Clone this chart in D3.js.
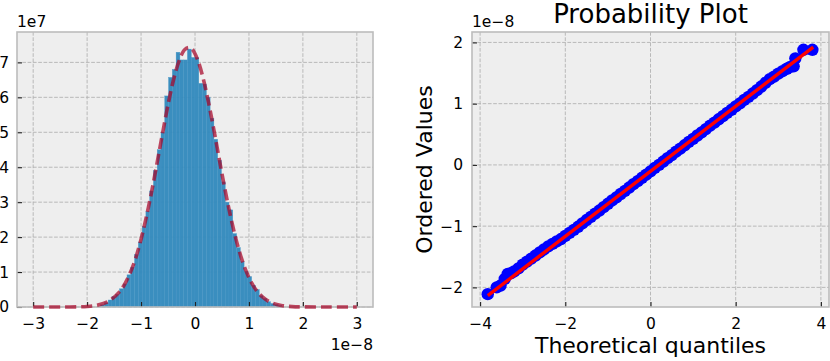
<!DOCTYPE html>
<html>
<head>
<meta charset="utf-8">
<script src="https://cdn.jsdelivr.net/npm/d3@7"></script>
<style>
  body { margin: 0; background: #fff; }
  svg text { font-family: "DejaVu Sans", sans-serif; fill: #000; }
</style>
</head>
<body>
<div id="chart"></div>
<script>
// left panel: histogram of the residuals (x in 1e-8, heights in 1e7)
const binStart = -1.75;
const binWidth = 0.07;
const binHeights = [
  0.06, 0.12, 0.2, 0.3, 0.36, 0.52, 0.66, 0.92, 1.14, 1.5, 1.86, 2.3,
  2.74, 3.32, 3.9, 4.5, 5.0, 6.04, 6.57, 6.8, 7.29, 7.07, 7.07, 7.38,
  7.14, 7.14, 6.4, 6.38, 6.0, 5.4, 4.8, 4.2, 3.58, 3.0, 2.78, 2.1,
  1.7, 1.3, 1.02, 0.87, 0.62, 0.5, 0.32, 0.24, 0.15, 0.1, 0.07, 0.04
];

// fitted normal pdf (dashed curve)
const pdfX = [-3, -2.5, -2, -1.8, -1.6, -1.4, -1.3, -1.2, -1.1, -1, -0.9, -0.8, -0.7,
  -0.6, -0.5, -0.4, -0.3, -0.2, -0.12, -0.05, 0.05, 0.15, 0.25, 0.35, 0.45, 0.55,
  0.65, 0.75, 0.85, 0.95, 1.05, 1.15, 1.25, 1.4, 1.6, 1.8, 2, 2.5, 3];
const pdfY = [0, 0, 0.016, 0.056, 0.167, 0.434, 0.664, 0.98, 1.40, 1.94, 2.59, 3.33, 4.15,
  4.98, 5.79, 6.49, 7.02, 7.35, 7.43, 7.37, 7.07, 6.55, 5.86, 5.07, 4.23, 3.41,
  2.66, 2.00, 1.45, 1.02, 0.69, 0.45, 0.29, 0.135, 0.044, 0.012, 0.003, 0, 0];

// right panel: probability plot (ordered values in 1e-8)
const qqTheoretical = [-3.82, -3.61, -3.52, -3.42, -3.35, -3.28, -3.2, -3.1, -3.0, -2.9,
  -2.8, -2.7, -2.6, -2.5, -2.4, -2.3, -2.2, -2.1, -2.0, -1.9, -1.8, -1.7, -1.6, -1.5,
  -1.4, -1.3, -1.2, -1.1, -1.0, -0.9, -0.8, -0.7, -0.6, -0.5, -0.4, -0.3, -0.2, -0.1,
  0.0, 0.1, 0.2, 0.3, 0.4, 0.5, 0.6, 0.7, 0.8, 0.9, 1.0, 1.1, 1.2, 1.3, 1.4, 1.5,
  1.6, 1.7, 1.8, 1.9, 2.0, 2.1, 2.2, 2.3, 2.4, 2.5, 2.6, 2.7, 2.8, 2.9, 3.0, 3.1,
  3.2, 3.28, 3.36, 3.4, 3.59, 3.8];
const qqOrdered = [-2.11, -2.0, -1.97, -1.86, -1.78, -1.77, -1.74, -1.69, -1.63, -1.58,
  -1.53, -1.48, -1.43, -1.38, -1.33, -1.29, -1.25, -1.21, -1.16, -1.11, -1.06, -1.01, -0.955, -0.9,
  -0.85, -0.795, -0.745, -0.69, -0.635, -0.58, -0.53, -0.475, -0.425, -0.37, -0.315, -0.265, -0.21, -0.16,
  -0.105, -0.05, 0.0, 0.055, 0.11, 0.16, 0.215, 0.265, 0.32, 0.375, 0.425, 0.48, 0.53, 0.585, 0.64, 0.69,
  0.745, 0.795, 0.85, 0.9, 0.955, 1.005, 1.06, 1.11, 1.165, 1.22, 1.28, 1.34, 1.4, 1.44, 1.49, 1.53,
  1.57, 1.6, 1.61, 1.74, 1.88, 1.88];
const fitX = [-3.82, 3.82];
const fitY = [-2.133, 1.923];

const histXTicks = [-3, -2, -1, 0, 1, 2, 3];
const histYTicks = [0, 1, 2, 3, 4, 5, 6, 7];
const qqXTicks = [-4, -2, 0, 2, 4];
const qqYTicks = [-2, -1, 0, 1, 2];

const W = 830, H = 361;
const fmt = d3.format("d");

const svg = d3.select("#chart").append("svg")
  .attr("width", W)
  .attr("height", H);

// axes background + dashed grid, returns scales and a layer for marks
function makePanel(box, xDomain, yDomain, xTicks, yTicks) {
  const x = d3.scaleLinear().domain(xDomain).range([box.left, box.right]);
  const y = d3.scaleLinear().domain(yDomain).range([box.bottom, box.top]);
  const g = svg.append("g");

  g.append("rect")
    .attr("x", box.left).attr("y", box.top)
    .attr("width", box.right - box.left)
    .attr("height", box.bottom - box.top)
    .attr("fill", "#eeeeee");

  const grid = g.append("g")
    .attr("stroke", "#b2b2b2")
    .attr("stroke-width", 0.9)
    .attr("stroke-dasharray", "3.7,1.6");
  grid.selectAll("line.gx").data(xTicks).join("line")
    .attr("class", "gx")
    .attr("x1", (d) => x(d)).attr("x2", (d) => x(d))
    .attr("y1", box.top).attr("y2", box.bottom);
  grid.selectAll("line.gy").data(yTicks).join("line")
    .attr("class", "gy")
    .attr("y1", (d) => y(d)).attr("y2", (d) => y(d))
    .attr("x1", box.left).attr("x2", box.right);

  const marks = svg.append("g");
  return { x, y, box, marks };
}

// inward ticks, labels and the light frame
function finishPanel(p, xTicks, yTicks, yPad) {
  const { x, y, box } = p;
  const ax = svg.append("g")
    .attr("transform", `translate(0,${box.bottom})`)
    .call(d3.axisBottom(x).tickValues(xTicks).tickFormat(fmt).tickSize(-5).tickPadding(11.3));
  const ay = svg.append("g")
    .attr("transform", `translate(${box.left},0)`)
    .call(d3.axisLeft(y).tickValues(yTicks).tickFormat(fmt).tickSize(-5).tickPadding(yPad));
  [ax, ay].forEach((a) => {
    a.select(".domain").remove();
    a.selectAll(".tick line").attr("stroke", "#222").attr("stroke-width", 1.1);
    a.selectAll(".tick text")
      .attr("font-family", "DejaVu Sans")
      .attr("font-size", 15.5)
      .attr("fill", "#000");
  });

  svg.append("rect")
    .attr("x", box.left).attr("y", box.top)
    .attr("width", box.right - box.left)
    .attr("height", box.bottom - box.top)
    .attr("fill", "none")
    .attr("stroke", "#bcbcbc")
    .attr("stroke-width", 1.6);
}

// ---- left: histogram with fitted pdf
const hist = makePanel({ left: 17, right: 373, top: 32, bottom: 307 },
  [-3.3, 3.3], [0, 7.87], histXTicks, histYTicks);

const bins = binHeights.map((h, i) => ({
  x0: binStart + i * binWidth,
  x1: binStart + (i + 1) * binWidth,
  h
}));

hist.marks.selectAll("rect").data(bins).join("rect")
  .attr("x", (d) => hist.x(d.x0))
  .attr("width", (d) => hist.x(d.x1) - hist.x(d.x0))
  .attr("y", (d) => hist.y(d.h))
  .attr("height", (d) => hist.y(0) - hist.y(d.h))
  .attr("fill", "#348ABD")
  .attr("fill-opacity", 0.97)
  .attr("stroke", "#4796c6")
  .attr("stroke-width", 0.4);

finishPanel(hist, histXTicks, histYTicks, 8);

const pdfLine = d3.line()
  .x((d) => hist.x(d[0]))
  .y((d) => hist.y(d[1]))
  .curve(d3.curveCatmullRom.alpha(0.5));

svg.append("path")
  .datum(pdfX.map((v, i) => [v, pdfY[i]]))
  .attr("d", pdfLine)
  .attr("fill", "none")
  .attr("stroke", "#A60628")
  .attr("stroke-opacity", 0.72)
  .attr("stroke-width", 3.6)
  .attr("stroke-dasharray", "11,5");

svg.append("text")
  .attr("x", 17).attr("y", 26.7)
  .attr("font-size", 15.5)
  .text("1e7");
svg.append("text")
  .attr("x", 373).attr("y", 350)
  .attr("text-anchor", "end")
  .attr("font-size", 15.5)
  .text("1e\u22128");

// ---- right: probability plot
const qq = makePanel({ left: 472, right: 829, top: 32, bottom: 307 },
  [-4.19, 4.19], [-2.32, 2.17], qqXTicks, qqYTicks);

qq.marks.selectAll("circle")
  .data(qqTheoretical.map((v, i) => [v, qqOrdered[i]]))
  .join("circle")
  .attr("cx", (d) => qq.x(d[0]))
  .attr("cy", (d) => qq.y(d[1]))
  .attr("r", 6.2)
  .attr("fill", "#0000ff");

qq.marks.append("path")
  .datum(fitX.map((v, i) => [v, fitY[i]]))
  .attr("d", d3.line().x((d) => qq.x(d[0])).y((d) => qq.y(d[1])))
  .attr("stroke", "#ff0000")
  .attr("stroke-width", 3.4)
  .attr("fill", "none");

finishPanel(qq, qqXTicks, qqYTicks, 9);

svg.append("text")
  .attr("x", 650.5).attr("y", 23)
  .attr("text-anchor", "middle")
  .attr("font-size", 26)
  .text("Probability Plot");
svg.append("text")
  .attr("x", 472).attr("y", 27)
  .attr("font-size", 15.5)
  .text("1e\u22128");
svg.append("text")
  .attr("transform", "translate(431.5,169.5) rotate(-90)")
  .attr("text-anchor", "middle")
  .attr("font-size", 22)
  .text("Ordered Values");
svg.append("text")
  .attr("x", 650.5).attr("y", 353)
  .attr("text-anchor", "middle")
  .attr("font-size", 22)
  .text("Theoretical quantiles");
</script>
</body>
</html>
